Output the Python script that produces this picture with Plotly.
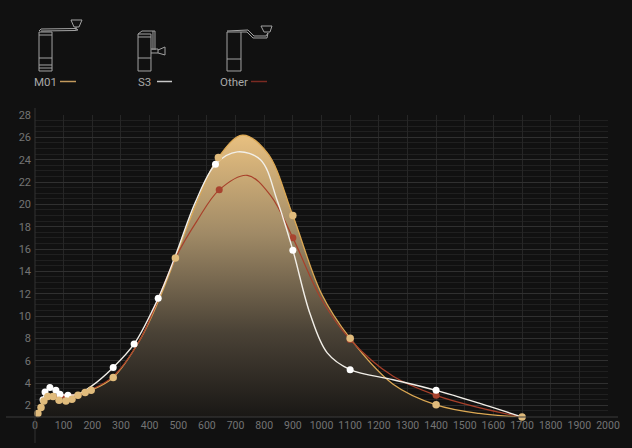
import plotly.graph_objects as go

# curve vertices (micrometres, percent)
m01_x = [10, 21, 31, 45, 63, 84, 108, 129, 150, 175, 196, 273, 367, 430, 490, 565, 640, 724, 811, 900, 1000, 1100, 1250, 1400, 1550, 1700]
m01_y = [1.28, 1.8, 2.4, 2.8, 2.8, 2.45, 2.4, 2.55, 2.9, 3.15, 3.35, 4.5, 7.9, 11.3, 15.2, 20.2, 24.2, 26.2, 24.6, 19.0, 12.0, 8.0, 3.9, 2.05, 1.28, 0.96]
s3_x = [10, 28, 35, 52, 73, 87, 115, 150, 196, 273, 346, 430, 490, 560, 630, 706, 787, 846, 900, 960, 1020, 1100, 1250, 1400, 1550, 1700]
s3_y = [1.28, 2.5, 3.2, 3.6, 3.35, 3.0, 2.9, 3.0, 3.7, 5.4, 7.5, 11.6, 15.4, 20.2, 23.6, 24.7, 24.0, 20.3, 15.9, 10.2, 6.7, 5.2, 4.3, 3.35, 2.2, 0.96]
other_x = [10, 31, 45, 63, 84, 108, 129, 150, 196, 273, 367, 490, 565, 643, 741, 822, 900, 1000, 1100, 1250, 1400, 1550, 1700]
other_y = [1.28, 2.4, 2.8, 2.8, 2.7, 2.75, 2.7, 2.9, 3.4, 4.6, 7.9, 15.2, 18.5, 21.3, 22.6, 20.8, 17.0, 11.5, 7.9, 4.6, 2.9, 1.8, 0.96]

# measured points (the dots)
m01_dot_x = [10, 21, 31, 45, 63, 84, 108, 129, 150, 175, 196, 273, 490, 640, 900, 1100, 1400, 1700]
m01_dot_y = [1.28, 1.8, 2.4, 2.8, 2.8, 2.45, 2.4, 2.55, 2.9, 3.15, 3.35, 4.5, 15.2, 24.2, 19.0, 8.0, 2.05, 0.96]
s3_dot_x = [28, 35, 52, 73, 87, 115, 273, 346, 430, 630, 900, 1100, 1400]
s3_dot_y = [2.5, 3.2, 3.6, 3.35, 3.0, 2.9, 5.4, 7.5, 11.6, 23.6, 15.9, 5.2, 3.35]
other_dot_x = [84, 108, 129, 643, 900, 1100, 1400]
other_dot_y = [2.7, 2.75, 2.7, 21.3, 17.0, 7.9, 2.9]

x_ticks = list(range(0, 2001, 100))
y_ticks = list(range(2, 29, 2))

BG = "#111111"
W, H = 632, 448
L, R, T, B = 35, 24, 115, 31
ICON = "#a3a3a3"


def px_x(x):
    return (x - L) / (W - L - R)


def px_y(y):
    return 1 - (y - T) / (H - T - B)


def poly(points, closed=False):
    path = "M" + " L".join(f"{px_x(x):.4f},{px_y(y):.4f}" for x, y in points)
    if closed:
        path += " Z"
    return dict(type="path", xref="paper", yref="paper", path=path, line=dict(color=ICON, width=1))


def seg(x0, y0, x1, y1, color="#3a3a3a", width=1):
    return dict(type="line", xref="paper", yref="paper", x0=px_x(x0), y0=px_y(y0), x1=px_x(x1), y1=px_y(y1), line=dict(color=color, width=width))


fig = go.Figure()

# gradient area under M01
fig.add_trace(go.Scatter(
    x=m01_x, y=m01_y, mode="lines", fill="tozeroy",
    line=dict(color="#dda954", width=1.3, shape="spline", smoothing=1),
    fillgradient=dict(type="vertical", start=0.96, stop=26.2,
                      colorscale=[[0, "#191715"], [0.3, "#4a4236"], [0.65, "#a08a66"], [1, "#e8c080"]]),
    hoverinfo="skip", showlegend=False,
))
fig.add_trace(go.Scatter(
    x=other_x, y=other_y, mode="lines",
    line=dict(color="#a8402a", width=1.2, shape="spline", smoothing=1),
    showlegend=False, hoverinfo="skip",
))
fig.add_trace(go.Scatter(
    x=other_dot_x, y=other_dot_y, mode="markers",
    marker=dict(color="#a8432f", size=7), showlegend=False, name="Other",
))
fig.add_trace(go.Scatter(
    x=s3_x, y=s3_y, mode="lines",
    line=dict(color="#f2efe8", width=1.4, shape="spline", smoothing=1),
    showlegend=False, hoverinfo="skip",
))
fig.add_trace(go.Scatter(
    x=s3_dot_x, y=s3_dot_y, mode="markers",
    marker=dict(color="#ffffff", size=7), showlegend=False, name="S3",
))
fig.add_trace(go.Scatter(
    x=m01_dot_x, y=m01_dot_y, mode="markers", cliponaxis=False,
    marker=dict(color="#e0bb7c", size=7.5), showlegend=False, name="M01",
))

shapes = [
    # axis lines run past the plot area
    seg(6, 417, 618, 417, "#3c3c3c"),
    seg(35, 108, 35, 443, "#333333"),
]

# grinder icons
shapes += [
    poly([(39, 32), (52, 32), (52, 71), (39, 71)], True),
    poly([(39, 35), (52, 35)]),
    poly([(39, 58), (52, 58)]),
    poly([(39, 65), (52, 65)]),
    poly([(39, 68), (52, 68)]),
    poly([(39, 31), (41, 29), (76, 28.5), (78, 30), (75, 30.5), (41, 31)]),
    poly([(71, 20), (82, 20), (79, 27), (74, 27)], True),
    poly([(76, 27), (76, 30)]),

    poly([(138, 34), (151, 34), (151, 71), (138, 71)], True),
    poly([(138, 58), (151, 58)]),
    poly([(138, 37), (151, 37)]),
    poly([(138, 34), (142, 31), (155, 31), (155, 50)]),
    poly([(153, 31), (153, 50)]),
    poly([(151, 49), (158, 49), (158, 53), (151, 53)]),
    poly([(158, 50), (165, 47), (165, 55), (158, 53)]),

    poly([(227, 32), (241, 32), (241, 71), (227, 71)], True),
    poly([(227, 59), (241, 59)]),
    poly([(227, 31), (248, 30), (254, 36), (266, 36), (268, 33)]),
    poly([(241, 32), (247, 32), (253, 38), (267, 38), (268, 33)]),
    poly([(261, 26), (272, 26), (270, 32), (264, 32)], True),
]

# legend swatches
shapes += [
    seg(60, 81.5, 76, 81.5, "#c39a5d", 1.5),
    seg(157, 81.5, 172, 81.5, "#c8c8c8", 1.5),
    seg(251, 81.5, 267, 81.5, "#7a2a22", 1.5),
]

annotations = [
    dict(text=name, xref="paper", yref="paper", x=px_x(x), y=px_y(82), xanchor="center", yanchor="middle",
         showarrow=False, font=dict(color="#a8a8a8", size=11.5, family="Roboto"))
    for name, x in [("M01", 45), ("S3", 144.5), ("Other", 233.5)]
]

fig.update_layout(
    width=W, height=H,
    margin=dict(l=L, r=R, t=T, b=B),
    paper_bgcolor=BG, plot_bgcolor=BG,
    font=dict(family="Roboto", color="#747474", size=11),
    showlegend=False,
    shapes=shapes,
    annotations=annotations,
    xaxis=dict(
        range=[0, 2000], tickvals=x_ticks, ticktext=[str(v) for v in x_ticks],
        tickfont=dict(size=10.5), showline=False, zeroline=False, ticks="",
        showgrid=True, gridcolor="#262626", gridwidth=1, tickangle=0,
    ),
    yaxis=dict(
        range=[0.96, 28], tickvals=y_ticks, ticktext=[str(v) for v in y_ticks],
        showline=False, zeroline=False, ticks="", ticklabelstandoff=3,
        showgrid=True, gridcolor="#303030", gridwidth=1,
        minor=dict(dtick=0.5, showgrid=True, gridcolor="#202020", gridwidth=1),
    ),
)

# the page's default body margin would shift the chart by 8px
fig.write_html(
    "out.html",
    config=dict(displayModeBar=False),
    post_script="document.body.style.margin='0';document.body.style.background='#111111';",
)
